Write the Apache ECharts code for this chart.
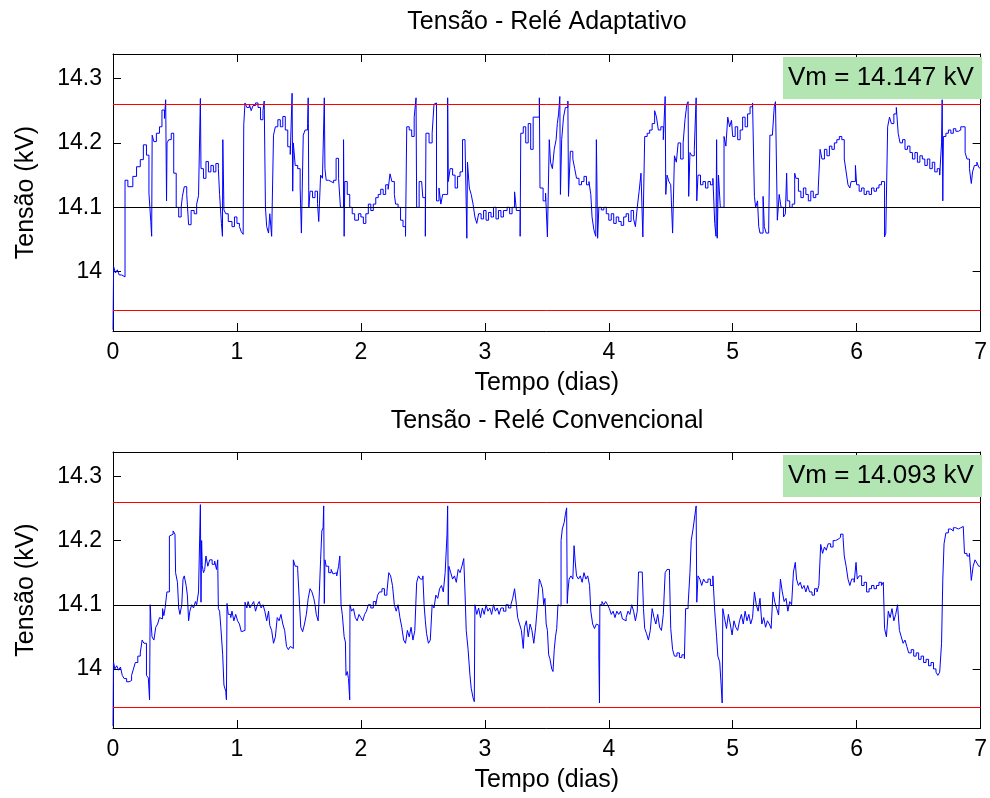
<!DOCTYPE html>
<html>
<head>
<meta charset="utf-8">
<script src="https://cdn.jsdelivr.net/npm/echarts@6/dist/echarts.min.js"></script>
<style>html,body{margin:0;padding:0;background:#fff}#c{width:990px;height:798px}</style>
</head>
<body>
<div id="c"></div>
<script>
// ---- data ----
const titles = ['Tensão - Relé Adaptativo', 'Tensão - Relé Convencional'];
const xName = 'Tempo (dias)';
const yName = 'Tensão (kV)';
const yTicks = [14.0, 14.1, 14.2, 14.3];
const xRange = [0, 7];
const yRange = [13.908, 14.338];
const upperLimit = 14.26;
const lowerLimit = 13.94;
const nominal = 14.1;
const vmAdaptive = 'Vm = 14.147 kV';
const vmConventional = 'Vm = 14.093 kV';

// [time (days), voltage (kV)] – sample-and-hold steps
const adaptive = [
[0,13.91],[0.005,14.008],[0.02,13.998],[0.035,14.003],[0.05,13.995],[0.07,13.992],[0.097,14.142],[0.12,14.132],[0.16,14.148],[0.19,14.163],[0.22,14.174],[0.245,14.197],[0.27,14.181],[0.29,14.122],[0.305,14.078],[0.312,14.055],[0.316,14.212],[0.33,14.202],[0.35,14.215],[0.375,14.225],[0.395,14.251],[0.415,14.238],[0.425,14.267],[0.432,14.11],[0.436,14.2],[0.45,14.205],[0.47,14.215],[0.49,14.153],[0.51,14.1],[0.53,14.085],[0.55,14.1],[0.56,14.117],[0.575,14.132],[0.595,14.12],[0.61,14.073],[0.63,14.095],[0.655,14.09],[0.675,14.105],[0.69,14.118],[0.705,14.269],[0.71,14.16],[0.73,14.145],[0.75,14.171],[0.77,14.155],[0.79,14.165],[0.81,14.155],[0.83,14.168],[0.85,14.16],[0.86,14.12],[0.875,14.075],[0.883,14.055],[0.886,14.205],[0.895,14.096],[0.91,14.09],[0.93,14.078],[0.96,14.07],[0.98,14.085],[1.0,14.075],[1.02,14.07],[1.035,14.062],[1.05,14.058],[1.055,14.228],[1.065,14.262],[1.08,14.255],[1.1,14.26],[1.115,14.25],[1.13,14.258],[1.15,14.262],[1.17,14.255],[1.19,14.236],[1.21,14.25],[1.22,14.265],[1.23,14.1],[1.24,14.07],[1.255,14.06],[1.265,14.09],[1.28,14.055],[1.295,14.212],[1.31,14.225],[1.33,14.236],[1.35,14.225],[1.37,14.241],[1.39,14.22],[1.41,14.194],[1.43,14.182],[1.445,14.277],[1.45,14.125],[1.455,14.2],[1.47,14.165],[1.49,14.16],[1.51,14.13],[1.52,14.06],[1.535,14.212],[1.55,14.22],[1.57,14.23],[1.575,14.27],[1.58,14.1],[1.59,14.125],[1.61,14.115],[1.63,14.125],[1.65,14.106],[1.66,14.078],[1.675,14.15],[1.69,14.145],[1.705,14.27],[1.71,14.16],[1.72,14.142],[1.74,14.14],[1.76,14.138],[1.78,14.142],[1.8,14.176],[1.82,14.145],[1.835,14.1],[1.86,14.205],[1.865,14.055],[1.87,14.14],[1.89,14.12],[1.91,14.1],[1.93,14.09],[1.95,14.08],[1.98,14.09],[2.0,14.085],[2.02,14.075],[2.04,14.09],[2.06,14.105],[2.08,14.095],[2.1,14.105],[2.12,14.115],[2.14,14.12],[2.16,14.128],[2.18,14.12],[2.2,14.135],[2.22,14.128],[2.235,14.152],[2.25,14.14],[2.27,14.12],[2.28,14.105],[2.3,14.1],[2.32,14.08],[2.34,14.07],[2.36,14.055],[2.37,14.225],[2.39,14.22],[2.41,14.21],[2.43,14.24],[2.445,14.27],[2.45,14.1],[2.47,14.14],[2.49,14.14],[2.5,14.115],[2.52,14.055],[2.525,14.215],[2.55,14.2],[2.575,14.215],[2.59,14.26],[2.6,14.262],[2.61,14.11],[2.63,14.13],[2.645,14.105],[2.66,14.12],[2.68,14.12],[2.7,14.27],[2.705,14.14],[2.72,14.16],[2.74,14.15],[2.76,14.13],[2.78,14.148],[2.8,14.155],[2.82,14.205],[2.84,14.205],[2.855,14.052],[2.86,14.17],[2.875,14.13],[2.89,14.12],[2.905,14.105],[2.92,14.085],[2.935,14.075],[2.95,14.09],[2.97,14.082],[2.99,14.095],[3.01,14.08],[3.03,14.092],[3.05,14.085],[3.07,14.1],[3.09,14.082],[3.11,14.095],[3.13,14.085],[3.15,14.095],[3.18,14.1],[3.2,14.09],[3.22,14.1],[3.24,14.124],[3.255,14.095],[3.285,14.055],[3.29,14.215],[3.31,14.225],[3.33,14.2],[3.35,14.23],[3.37,14.19],[3.39,14.24],[3.44,14.27],[3.445,14.13],[3.47,14.11],[3.49,14.122],[3.505,14.054],[3.52,14.205],[3.53,14.17],[3.545,14.16],[3.56,14.19],[3.575,14.205],[3.585,14.23],[3.595,14.245],[3.605,14.272],[3.61,14.12],[3.62,14.205],[3.635,14.24],[3.65,14.255],[3.67,14.265],[3.675,14.117],[3.69,14.187],[3.71,14.175],[3.725,14.16],[3.74,14.145],[3.76,14.135],[3.78,14.14],[3.8,14.148],[3.82,14.135],[3.84,14.14],[3.855,14.12],[3.865,14.085],[3.88,14.065],[3.895,14.055],[3.9,14.205],[3.91,14.052],[3.92,14.1],[3.94,14.096],[3.96,14.1],[3.98,14.09],[4.0,14.08],[4.02,14.09],[4.04,14.075],[4.06,14.085],[4.08,14.078],[4.1,14.072],[4.12,14.085],[4.14,14.09],[4.16,14.078],[4.18,14.095],[4.2,14.082],[4.215,14.07],[4.23,14.1],[4.245,14.125],[4.26,14.153],[4.275,14.054],[4.29,14.21],[4.31,14.215],[4.33,14.22],[4.35,14.23],[4.37,14.25],[4.385,14.24],[4.4,14.22],[4.42,14.225],[4.44,14.205],[4.455,14.272],[4.46,14.12],[4.47,14.15],[4.485,14.14],[4.5,14.135],[4.515,14.06],[4.53,14.18],[4.545,14.17],[4.56,14.2],[4.58,14.175],[4.6,14.2],[4.615,14.236],[4.63,14.26],[4.64,14.264],[4.645,14.117],[4.655,14.185],[4.67,14.18],[4.69,14.19],[4.705,14.27],[4.71,14.11],[4.72,14.15],[4.74,14.135],[4.76,14.14],[4.78,14.13],[4.8,14.14],[4.82,14.135],[4.84,14.145],[4.855,14.075],[4.865,14.055],[4.87,14.205],[4.875,14.052],[4.885,14.15],[4.9,14.1],[4.93,14.21],[4.945,14.195],[4.96,14.24],[4.975,14.225],[4.99,14.235],[5.0,14.21],[5.02,14.225],[5.04,14.205],[5.06,14.22],[5.08,14.24],[5.1,14.225],[5.12,14.245],[5.14,14.256],[5.16,14.262],[5.175,14.117],[5.185,14.1],[5.2,14.11],[5.21,14.07],[5.22,14.06],[5.245,14.117],[5.255,14.07],[5.27,14.06],[5.29,14.065],[5.3,14.212],[5.32,14.215],[5.335,14.256],[5.345,14.264],[5.36,14.08],[5.375,14.12],[5.39,14.1],[5.41,14.085],[5.425,14.09],[5.435,14.153],[5.44,14.11],[5.46,14.1],[5.48,14.105],[5.5,14.153],[5.51,14.145],[5.53,14.125],[5.55,14.115],[5.57,14.13],[5.59,14.12],[5.61,14.11],[5.63,14.125],[5.65,14.115],[5.67,14.12],[5.69,14.13],[5.705,14.19],[5.72,14.175],[5.74,14.19],[5.76,14.18],[5.78,14.195],[5.8,14.19],[5.82,14.2],[5.84,14.205],[5.86,14.21],[5.88,14.205],[5.9,14.175],[5.915,14.155],[5.93,14.135],[5.945,14.13],[5.955,14.14],[5.99,14.165],[6.0,14.135],[6.02,14.125],[6.04,14.13],[6.06,14.12],[6.08,14.125],[6.1,14.12],[6.12,14.13],[6.14,14.125],[6.16,14.13],[6.18,14.135],[6.2,14.14],[6.225,14.054],[6.235,14.06],[6.25,14.225],[6.265,14.24],[6.28,14.23],[6.3,14.245],[6.32,14.255],[6.335,14.215],[6.35,14.2],[6.37,14.205],[6.39,14.19],[6.41,14.195],[6.43,14.185],[6.45,14.175],[6.47,14.185],[6.49,14.17],[6.51,14.18],[6.53,14.175],[6.55,14.165],[6.57,14.175],[6.59,14.16],[6.61,14.17],[6.63,14.155],[6.65,14.16],[6.67,14.15],[6.685,14.2],[6.69,14.267],[6.695,14.11],[6.7,14.21],[6.72,14.215],[6.74,14.22],[6.76,14.215],[6.78,14.222],[6.8,14.218],[6.82,14.22],[6.84,14.225],[6.875,14.185],[6.89,14.175],[6.91,14.16],[6.925,14.137],[6.935,14.155],[6.95,14.165],[6.97,14.17],[6.985,14.162],[7.0,14.16]
];

const conventional = [
[0,13.911],[0.004,14.011],[0.015,14.0],[0.03,14.005],[0.045,13.998],[0.06,14.003],[0.075,13.99],[0.09,13.985],[0.11,13.98],[0.13,13.982],[0.15,13.99],[0.165,14.0],[0.18,14.01],[0.2,14.02],[0.22,14.025],[0.235,14.045],[0.25,14.04],[0.27,13.99],[0.285,13.986],[0.295,13.952],[0.3,14.1],[0.305,14.078],[0.315,14.05],[0.33,14.045],[0.345,14.065],[0.36,14.07],[0.375,14.08],[0.39,14.078],[0.4,14.094],[0.41,14.083],[0.42,14.094],[0.435,14.12],[0.455,14.207],[0.47,14.21],[0.485,14.215],[0.5,14.21],[0.505,14.15],[0.52,14.135],[0.53,14.095],[0.54,14.085],[0.555,14.1],[0.565,14.14],[0.575,14.145],[0.59,14.13],[0.6,14.115],[0.61,14.075],[0.62,14.09],[0.635,14.1],[0.65,14.095],[0.665,14.105],[0.675,14.1],[0.69,14.12],[0.7,14.21],[0.705,14.256],[0.71,14.104],[0.715,14.2],[0.72,14.161],[0.73,14.15],[0.74,14.155],[0.75,14.176],[0.765,14.16],[0.78,14.17],[0.8,14.163],[0.82,14.168],[0.835,14.155],[0.845,14.17],[0.85,14.094],[0.86,14.09],[0.87,14.065],[0.885,14.022],[0.895,13.975],[0.91,13.965],[0.915,13.952],[0.92,14.102],[0.93,14.085],[0.95,14.08],[0.96,14.09],[0.975,14.075],[0.99,14.085],[1.005,14.075],[1.02,14.07],[1.035,14.058],[1.05,14.06],[1.065,14.104],[1.08,14.095],[1.09,14.105],[1.105,14.095],[1.12,14.1],[1.135,14.105],[1.15,14.09],[1.165,14.1],[1.18,14.105],[1.195,14.095],[1.21,14.1],[1.225,14.09],[1.24,14.075],[1.255,14.09],[1.265,14.068],[1.28,14.06],[1.295,14.04],[1.31,14.05],[1.325,14.08],[1.34,14.075],[1.355,14.085],[1.37,14.07],[1.385,14.06],[1.4,14.035],[1.415,14.03],[1.43,14.035],[1.445,14.032],[1.455,14.17],[1.47,14.16],[1.49,14.155],[1.505,14.1],[1.515,14.065],[1.53,14.058],[1.545,14.07],[1.56,14.085],[1.575,14.11],[1.59,14.125],[1.605,14.12],[1.62,14.11],[1.63,14.1],[1.64,14.085],[1.655,14.075],[1.665,14.12],[1.675,14.17],[1.685,14.215],[1.695,14.22],[1.7,14.254],[1.705,14.102],[1.71,14.17],[1.72,14.16],[1.74,14.15],[1.76,14.155],[1.775,14.148],[1.79,14.15],[1.805,14.145],[1.82,14.16],[1.83,14.176],[1.84,14.1],[1.85,14.085],[1.865,14.05],[1.875,14.042],[1.88,13.99],[1.89,13.996],[1.9,13.985],[1.91,13.952],[1.912,14.1],[1.925,14.09],[1.94,14.094],[1.955,14.08],[1.97,14.075],[1.985,14.085],[2.0,14.08],[2.015,14.075],[2.03,14.085],[2.045,14.09],[2.06,14.1],[2.08,14.095],[2.1,14.105],[2.12,14.1],[2.135,14.115],[2.15,14.12],[2.17,14.125],[2.19,14.115],[2.21,14.12],[2.225,14.15],[2.24,14.145],[2.255,14.13],[2.27,14.1],[2.285,14.09],[2.3,14.1],[2.315,14.08],[2.33,14.065],[2.345,14.045],[2.36,14.04],[2.375,14.06],[2.39,14.05],[2.405,14.065],[2.42,14.045],[2.435,14.06],[2.45,14.135],[2.465,14.145],[2.48,14.14],[2.5,14.145],[2.51,14.1],[2.52,14.075],[2.53,14.055],[2.545,14.04],[2.56,14.045],[2.575,14.1],[2.59,14.095],[2.605,14.115],[2.62,14.11],[2.635,14.125],[2.65,14.13],[2.665,14.12],[2.68,14.15],[2.695,14.21],[2.7,14.254],[2.705,14.1],[2.71,14.16],[2.725,14.15],[2.74,14.14],[2.755,14.145],[2.77,14.135],[2.785,14.155],[2.8,14.15],[2.815,14.16],[2.83,14.172],[2.84,14.12],[2.85,14.06],[2.865,14.03],[2.88,13.99],[2.89,13.97],[2.905,13.955],[2.915,13.949],[2.92,14.1],[2.935,14.085],[2.95,14.095],[2.965,14.08],[2.98,14.095],[2.995,14.085],[3.01,14.1],[3.025,14.09],[3.04,14.095],[3.055,14.085],[3.07,14.1],[3.085,14.09],[3.1,14.095],[3.115,14.085],[3.13,14.095],[3.15,14.09],[3.17,14.1],[3.19,14.095],[3.21,14.1],[3.225,14.11],[3.24,14.125],[3.255,14.1],[3.265,14.08],[3.28,14.07],[3.295,14.06],[3.31,14.032],[3.32,14.065],[3.335,14.075],[3.35,14.05],[3.365,14.07],[3.38,14.06],[3.395,14.04],[3.41,14.065],[3.425,14.1],[3.44,14.14],[3.45,14.135],[3.465,14.125],[3.475,14.1],[3.485,14.11],[3.495,14.07],[3.505,14.06],[3.515,14.022],[3.525,14.016],[3.54,14.0],[3.55,13.996],[3.56,14.03],[3.57,14.05],[3.58,14.063],[3.59,14.1],[3.605,14.098],[3.615,14.2],[3.625,14.218],[3.64,14.228],[3.65,14.241],[3.66,14.251],[3.665,14.102],[3.67,14.12],[3.68,14.14],[3.695,14.145],[3.71,14.14],[3.72,14.192],[3.73,14.165],[3.74,14.145],[3.755,14.14],[3.77,14.145],[3.785,14.135],[3.8,14.15],[3.815,14.14],[3.83,14.145],[3.845,14.13],[3.855,14.09],[3.87,14.07],[3.885,14.063],[3.9,14.07],[3.91,14.068],[3.92,14.022],[3.925,13.947],[3.928,14.1],[3.945,14.105],[3.96,14.1],[3.975,14.105],[3.99,14.1],[4.005,14.094],[4.02,14.085],[4.035,14.09],[4.05,14.08],[4.065,14.09],[4.08,14.085],[4.095,14.09],[4.11,14.078],[4.125,14.075],[4.14,14.08],[4.155,14.09],[4.17,14.085],[4.185,14.1],[4.2,14.09],[4.215,14.075],[4.23,14.09],[4.24,14.151],[4.27,14.15],[4.28,14.094],[4.29,14.063],[4.305,14.055],[4.32,14.045],[4.335,14.06],[4.35,14.094],[4.365,14.08],[4.38,14.07],[4.395,14.085],[4.41,14.065],[4.425,14.06],[4.44,14.085],[4.455,14.15],[4.47,14.155],[4.49,14.145],[4.5,14.063],[4.515,14.03],[4.53,14.02],[4.55,14.025],[4.57,14.018],[4.59,14.022],[4.61,14.016],[4.62,14.094],[4.64,14.1],[4.655,14.15],[4.665,14.2],[4.68,14.218],[4.695,14.24],[4.705,14.254],[4.71,14.104],[4.72,14.145],[4.735,14.14],[4.75,14.13],[4.765,14.14],[4.78,14.135],[4.8,14.14],[4.82,14.13],[4.84,14.145],[4.855,14.09],[4.87,14.05],[4.88,14.02],[4.895,14.011],[4.905,13.98],[4.915,13.947],[4.92,14.094],[4.935,14.078],[4.95,14.063],[4.965,14.085],[4.98,14.07],[4.995,14.053],[5.01,14.075],[5.025,14.065],[5.04,14.06],[5.055,14.075],[5.07,14.085],[5.085,14.07],[5.1,14.09],[5.115,14.075],[5.13,14.085],[5.145,14.07],[5.16,14.08],[5.175,14.12],[5.19,14.1],[5.205,14.09],[5.22,14.11],[5.235,14.07],[5.25,14.08],[5.265,14.065],[5.28,14.075],[5.295,14.07],[5.31,14.063],[5.325,14.12],[5.34,14.104],[5.355,14.094],[5.37,14.084],[5.385,14.14],[5.4,14.12],[5.415,14.105],[5.43,14.11],[5.445,14.09],[5.46,14.105],[5.475,14.1],[5.49,14.151],[5.505,14.166],[5.515,14.14],[5.53,14.13],[5.545,14.135],[5.56,14.125],[5.575,14.13],[5.59,14.12],[5.605,14.13],[5.62,14.12],[5.64,14.115],[5.66,14.125],[5.68,14.12],[5.695,14.13],[5.71,14.194],[5.725,14.18],[5.74,14.19],[5.755,14.185],[5.77,14.195],[5.79,14.19],[5.81,14.2],[5.83,14.202],[5.85,14.205],[5.87,14.21],[5.89,14.205],[5.9,14.176],[5.915,14.16],[5.93,14.14],[5.945,14.13],[5.96,14.14],[5.98,14.135],[5.995,14.166],[6.005,14.14],[6.02,14.145],[6.04,14.13],[6.06,14.135],[6.08,14.12],[6.1,14.125],[6.12,14.13],[6.14,14.125],[6.16,14.13],[6.18,14.135],[6.2,14.13],[6.215,14.135],[6.225,14.063],[6.24,14.05],[6.255,14.09],[6.27,14.08],[6.285,14.094],[6.3,14.075],[6.315,14.085],[6.33,14.1],[6.345,14.06],[6.36,14.05],[6.375,14.04],[6.39,14.045],[6.405,14.035],[6.42,14.025],[6.44,14.03],[6.46,14.02],[6.48,14.025],[6.5,14.015],[6.52,14.02],[6.54,14.01],[6.56,14.015],[6.58,14.005],[6.6,14.01],[6.62,14.0],[6.64,13.995],[6.655,13.99],[6.67,13.995],[6.685,14.04],[6.695,14.14],[6.705,14.195],[6.72,14.212],[6.74,14.218],[6.76,14.215],[6.78,14.22],[6.8,14.218],[6.82,14.22],[6.84,14.222],[6.86,14.225],[6.87,14.18],[6.89,14.176],[6.91,14.18],[6.925,14.138],[6.94,14.16],[6.955,14.17],[6.97,14.165],[6.985,14.16],[7.0,14.16]
];

// ---- chart ----
const FONT = '"Liberation Sans", Arial, Helvetica, sans-serif';
const chart = echarts.init(document.getElementById('c'), null, {renderer: 'canvas'});

const grids = [
  {left: 113, top: 54, width: 868, height: 277},
  {left: 113, top: 452, width: 868, height: 276}
];

function xAxes(gi) {
  const base = {
    gridIndex: gi, type: 'value', min: xRange[0], max: xRange[1], interval: 1,
    axisLine: {show: true, onZero: false, lineStyle: {color: '#000', width: 1}},
    axisTick: {show: true, inside: true, length: 8, lineStyle: {color: '#000'}},
    splitLine: {show: false}
  };
  return [
    Object.assign({}, base, {
      position: 'bottom', name: xName, nameLocation: 'middle', nameGap: 40,
      nameTextStyle: {fontFamily: FONT, fontSize: 25, color: '#000'},
      axisLabel: {show: true, fontFamily: FONT, fontSize: 23, color: '#000', margin: 10}
    }),
    Object.assign({}, base, {position: 'top', axisLabel: {show: false}})
  ];
}
function yAxes(gi) {
  const base = {
    gridIndex: gi, type: 'value', min: yRange[0], max: yRange[1],
    axisLine: {show: true, onZero: false, lineStyle: {color: '#000', width: 1}},
    axisTick: {show: true, inside: true, length: 8, customValues: yTicks, lineStyle: {color: '#000'}},
    splitLine: {show: false}
  };
  return [
    Object.assign({}, base, {
      position: 'left', name: yName, nameLocation: 'middle', nameGap: 74,
      nameTextStyle: {fontFamily: FONT, fontSize: 25, color: '#000'},
      axisLabel: {show: true, customValues: yTicks, fontFamily: FONT, fontSize: 23, color: '#000', margin: 11}
    }),
    Object.assign({}, base, {position: 'right', axisLabel: {show: false}})
  ];
}

function seriesFor(data, gi) {
  return {
    type: 'line', xAxisIndex: gi * 2, yAxisIndex: gi * 2, data: data,
    step: 'end', showSymbol: false, symbol: 'none', animation: false,
    lineStyle: {color: '#0000ff', width: 1}, itemStyle: {color: '#0000ff'},
    clip: true,
    markLine: {
      silent: true, symbol: ['none', 'none'], animation: false,
      label: {show: false},
      data: [
        {yAxis: upperLimit, lineStyle: {color: '#ff0000', width: 1, type: 'solid'}},
        {yAxis: lowerLimit, lineStyle: {color: '#ff0000', width: 1, type: 'solid'}},
        {yAxis: nominal, lineStyle: {color: '#000000', width: 1, type: 'solid'}}
      ]
    }
  };
}

function box(topY, text) {
  return {
    type: 'group', left: 783, top: topY, z: 100, children: [
      {type: 'rect', z: 100, shape: {x: 0, y: 0, width: 199, height: 42}, style: {fill: '#b3e5b3'}},
      {type: 'text', z: 101, x: 5, y: 21, style: {text: text, font: '26px ' + FONT, fill: '#000', textVerticalAlign: 'middle', verticalAlign: 'middle'}}
    ]
  };
}

chart.setOption({
  backgroundColor: '#fff',
  animation: false,
  grid: grids,
  xAxis: xAxes(0).concat(xAxes(1)),
  yAxis: yAxes(0).concat(yAxes(1)),
  series: [seriesFor(adaptive, 0), seriesFor(conventional, 1)],
  graphic: {
    z: 100,
    elements: [
      {type: 'text', x: 547, y: 22, style: {text: titles[0], font: '25px ' + FONT, fill: '#000', textAlign: 'center', align: 'center', textVerticalAlign: 'middle', verticalAlign: 'middle'}},
      {type: 'text', x: 547, y: 421, style: {text: titles[1], font: '25px ' + FONT, fill: '#000', textAlign: 'center', align: 'center', textVerticalAlign: 'middle', verticalAlign: 'middle'}},
      box(57, vmAdaptive),
      box(455, vmConventional)
    ]
  }
});
</script>
</body>
</html>
